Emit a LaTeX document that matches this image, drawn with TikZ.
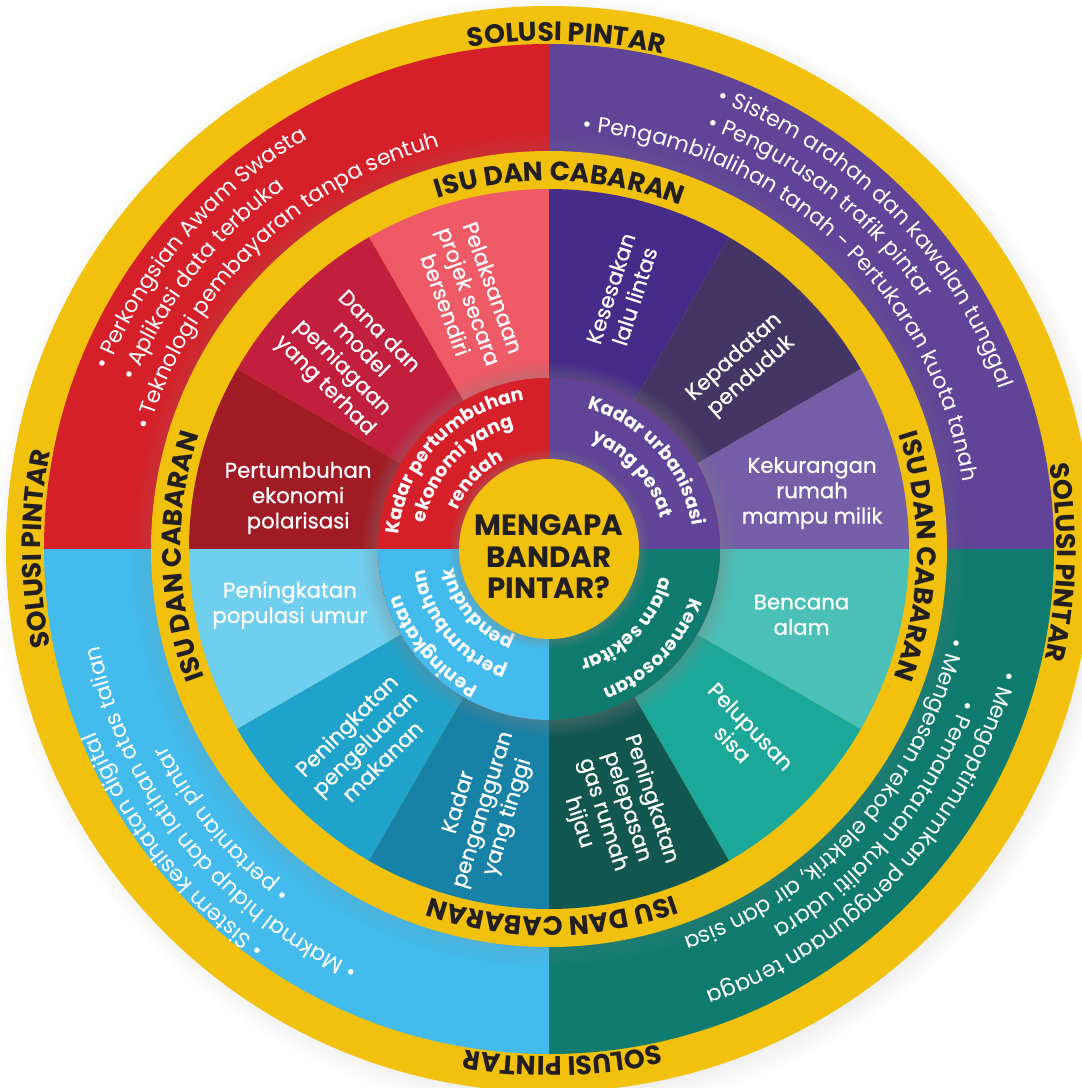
\documentclass[tikz,border=0pt]{standalone}
\usepackage{fontspec}
\setmainfont{Poppins}
\newfontfamily\wedgefamily{Poppins}[FakeBold=0.6]
\usetikzlibrary{decorations.text,shadows,fadings}

\definecolor{ringyellow}{HTML}{F1C10E}
\definecolor{inkdark}{HTML}{231F20}
\definecolor{solred}{HTML}{D52029}
\definecolor{solpurple}{HTML}{5F4497}
\definecolor{solteal}{HTML}{0F7B6F}
\definecolor{solblue}{HTML}{43BBEC}
\definecolor{pelakpink}{HTML}{EE5B67}
\definecolor{danacrimson}{HTML}{C21F3E}
\definecolor{polarmaroon}{HTML}{A11B25}
\definecolor{sesakviolet}{HTML}{462C89}
\definecolor{padatplum}{HTML}{433564}
\definecolor{rumahlilac}{HTML}{745EA8}
\definecolor{bencanamint}{HTML}{4BC0B6}
\definecolor{sisagreen}{HTML}{1CA899}
\definecolor{gaspine}{HTML}{125650}
\definecolor{umursky}{HTML}{70CFEE}
\definecolor{makananblue}{HTML}{20A3CB}
\definecolor{kerjablue}{HTML}{1782A6}

\newcommand{\ringfont}{\bfseries\fontsize{20}{24}\selectfont}
\newcommand{\listfont}{\fontsize{16.5}{19}\selectfont}
\newcommand{\corefont}{\bfseries\fontsize{14}{17}\selectfont}
% align, radius, from, to, colour, text
\newcommand{\arctext}[6]{\path[decorate, decoration={text along path, text align=#1, text color=#5, text={#6}}] (#3:#2) arc (#3:#4:#2);}

\begin{document}
\begin{tikzpicture}[x=0.75pt, y=0.75pt,
	wedgetext/.style={text=white, font=\wedgefamily\fontsize{16}{19}\selectfont, align=center, inner sep=0pt},
	hubtext/.style={text=inkdark, font=\bfseries\fontsize{22}{23.6}\selectfont, align=center, inner sep=0pt}]
	\useasboundingbox (-549,-539) rectangle (532,549);
	\fill[white] (-549,-539) rectangle (532,549);
	% Solusi pintar
	\fill[ringyellow, circular drop shadow={shadow scale=1.03, shadow xshift=4pt, shadow yshift=-4pt, opacity=0.4}] (0,0) circle (543);
	\fill[solred] (0,0) -- (90:505) arc (90:180:505) -- cycle;
	\fill[solpurple] (0,0) -- (0:505) arc (0:90:505) -- cycle;
	\fill[solteal] (0,0) -- (-90:505) arc (-90:0:505) -- cycle;
	\fill[solblue] (0,0) -- (180:505) arc (180:270:505) -- cycle;
	\arctext{center}{508}{138}{38}{inkdark}{|\ringfont|SOLUSI PINTAR}
	\arctext{center}{508}{48.5}{-51.5}{inkdark}{|\ringfont|SOLUSI PINTAR}
	\arctext{center}{508}{321.5}{221.5}{inkdark}{|\ringfont|SOLUSI PINTAR}
	\arctext{center}{508}{230}{130}{inkdark}{|\ringfont|SOLUSI PINTAR}
	\arctext{left}{476}{158}{60}{white}{|\listfont|• Perkongsian Awam Swasta}
	\arctext{left}{447}{158}{60}{white}{|\listfont|• Aplikasi data terbuka}
	\arctext{left}{417}{163.5}{60}{white}{|\listfont|• Teknologi pembayaran tanpa sentuh}
	\arctext{left}{478}{69.5}{-30}{white}{|\listfont|• Sistem arahan dan kawalan tunggal}
	\arctext{left}{449}{69.5}{-30}{white}{|\listfont|• Pengurusan trafik pintar}
	\arctext{left}{419}{85.5}{-30}{white}{|\listfont|• Pengambilalihan tanah - Pertukaran kuota tanah}
	\arctext{left}{470}{-15}{-110}{white}{|\listfont|• Mengoptimumkan penggunaan tenaga}
	\arctext{left}{440}{-20}{-110}{white}{|\listfont|• Pemantauan kualiti udara}
	\arctext{left}{411}{-12.5}{-110}{white}{|\listfont|• Mengesan rekod elektrik, air dan sisa}
	\arctext{left}{489}{234.5}{150}{white}{|\listfont|• Sistem kesihatan digital}
	\arctext{left}{460}{245.5}{150}{white}{|\listfont|• Makmal hidup dan latihan atas talian}
	\arctext{left}{430}{233}{150}{white}{|\listfont|• pertanian pintar}
	% Isu dan cabaran
	\fill[ringyellow, circular drop shadow={shadow scale=1.05, shadow xshift=0pt, shadow yshift=0pt, opacity=0.45}] (0,0) circle (398);
	\fill[pelakpink] (0,0) -- (90:360) arc (90:120:360) -- cycle;
	\fill[danacrimson] (0,0) -- (120:360) arc (120:150:360) -- cycle;
	\fill[polarmaroon] (0,0) -- (150:360) arc (150:180:360) -- cycle;
	\fill[sesakviolet] (0,0) -- (60:360) arc (60:90:360) -- cycle;
	\fill[padatplum] (0,0) -- (30:360) arc (30:60:360) -- cycle;
	\fill[rumahlilac] (0,0) -- (0:360) arc (0:30:360) -- cycle;
	\fill[bencanamint] (0,0) -- (-30:360) arc (-30:0:360) -- cycle;
	\fill[sisagreen] (0,0) -- (-60:360) arc (-60:-30:360) -- cycle;
	\fill[gaspine] (0,0) -- (-90:360) arc (-90:-60:360) -- cycle;
	\fill[umursky] (0,0) -- (180:360) arc (180:210:360) -- cycle;
	\fill[makananblue] (0,0) -- (210:360) arc (210:240:360) -- cycle;
	\fill[kerjablue] (0,0) -- (240:360) arc (240:270:360) -- cycle;
	\arctext{center}{368}{138.3}{38.3}{inkdark}{|\ringfont|ISU DAN CABARAN}
	\arctext{center}{368}{48.8}{-51.2}{inkdark}{|\ringfont|ISU DAN CABARAN}
	\arctext{center}{368}{320.5}{220.5}{inkdark}{|\ringfont|ISU DAN CABARAN}
	\arctext{center}{368}{231.2}{131.2}{inkdark}{|\ringfont|ISU DAN CABARAN}
	\node[wedgetext, rotate=-70] (pelak) at (107.5:265) {Pelaksanaan\\projek secara\\bersendiri};
	\node[wedgetext, rotate=-45] (dana) at (136.2:274) {Dana dan\\model\\perniagaan\\yang terhad};
	\node[wedgetext] (polar) at (168.5:256) {Pertumbuhan\\ekonomi\\polarisasi};
	\node[wedgetext, rotate=72] (sesak) at (74:267) {Kesesakan\\lalu lintas};
	\node[wedgetext, rotate=42] (padat) at (43.2:266) {Kepadatan\\penduduk};
	\node[wedgetext] (rumah) at (12:269) {Kekurangan\\rumah\\mampu milik};
	\node[wedgetext] (bencana) at (-14.6:261) {Bencana\\alam};
	\node[wedgetext, rotate=-46] (sisa) at (-44:268) {Pelupusan\\sisa};
	\node[wedgetext, rotate=-72] (gas) at (-75.9:270) {Peningkatan\\pelepasan\\gas rumah\\hijau};
	\node[wedgetext] (umur) at (192.2:265) {Peningkatan\\populasi umur};
	\node[wedgetext, rotate=45] (makanan) at (226.4:268) {Peningkatan\\pengeluaran\\makanan};
	\node[wedgetext, rotate=73] (kerja) at (256:269) {Kadar\\pengangguran\\yang tinggi};
	% Punca
	\fill[solred, circular drop shadow={shadow scale=1.1, shadow xshift=0pt, shadow yshift=0pt, opacity=0.55}] (0,0) circle (171);
	\fill[solred] (0,0) -- (90:171) arc (90:180:171) -- cycle;
	\fill[solpurple] (0,0) -- (0:171) arc (0:90:171) -- cycle;
	\fill[solteal] (0,0) -- (-90:171) arc (-90:0:171) -- cycle;
	\fill[solblue] (0,0) -- (180:171) arc (180:270:171) -- cycle;
	\arctext{center}{151}{197}{77}{white}{|\corefont|Kadar pertumbuhan}
	\arctext{center}{127}{197}{77}{white}{|\corefont|ekonomi yang}
	\arctext{center}{99}{197}{77}{white}{|\corefont|rendah}
	\arctext{center}{145}{102}{-18}{white}{|\corefont|Kadar urbanisasi}
	\arctext{center}{116}{102}{-18}{white}{|\corefont|yang pesat}
	\arctext{center}{150}{16}{-104}{white}{|\corefont|Kemerosotan}
	\arctext{center}{115}{16}{-104}{white}{|\corefont|alam sekitar}
	\arctext{center}{155}{280}{160}{white}{|\corefont|Peningkatan}
	\arctext{center}{126}{280}{160}{white}{|\corefont|pertumbuhan}
	\arctext{center}{97}{280}{160}{white}{|\corefont|penduduk}
	% Mengapa
	\fill[ringyellow, circular drop shadow={shadow scale=1.12, shadow xshift=0pt, shadow yshift=0pt, opacity=0.5}] (0,0) circle (90);
	\node[hubtext] (why) at (0,-8) {MENGAPA\\BANDAR\\PINTAR?};
\end{tikzpicture}
\end{document}
